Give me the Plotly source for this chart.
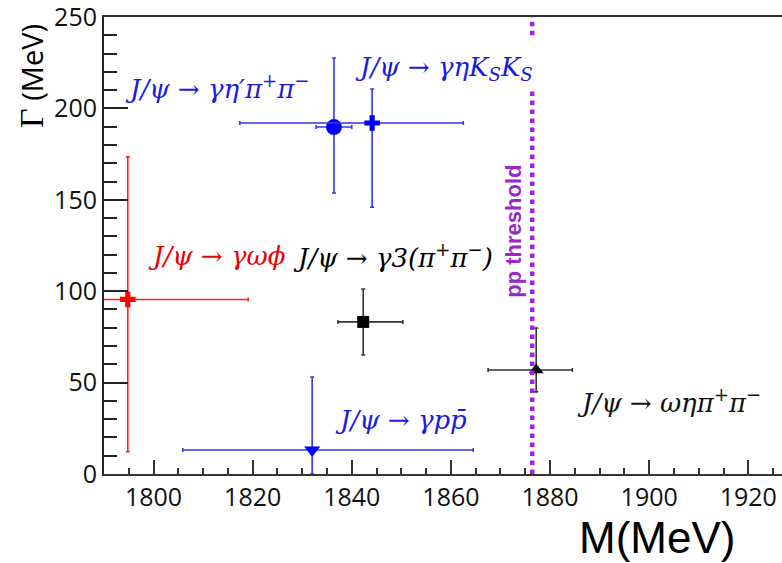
import plotly.graph_objects as go

# ---- data ----
channels = ["J/ψ→γωφ", "J/ψ→γη'π+π-", "J/ψ→γηKsKs", "J/ψ→γ3(π+π-)", "J/ψ→γpp̄", "J/ψ→ωηπ+π-"]
mass = [1794.8, 1836.4, 1844.1, 1842.3, 1832.0, 1877.2]
mass_err_minus = [24.3, 3.6, 26.7, 5.1, 26.1, 9.7]
mass_err_plus = [24.3, 3.6, 18.4, 8.0, 32.5, 7.3]
gamma = [95.5, 189.8, 192.0, 83.2, 13.1, 56.9]
gamma_err_minus = [83.3, 36.1, 46.0, 18.1, 13.1, 12.0]
gamma_err_plus = [78.0, 37.8, 18.6, 18.0, 40.0, 23.0]

threshold_mass = 1876.4
threshold_segments = [(0, 211), (240, 250)]

x_ticks = [1800, 1820, 1840, 1860, 1880, 1900, 1920]
y_ticks = [0, 50, 100, 150, 200, 250]

# ---- styles ----
styles = [
    dict(symbol="cross", size=13, color="#ff0000", line="#ff2020"),
    dict(symbol="circle", size=16, color="#0000ff", line="#3535e8"),
    dict(symbol="cross", size=13, color="#0000ff", line="#3535e8"),
    dict(symbol="square", size=12, color="#000000", line="#333333"),
    dict(symbol="triangle-down", size=14, color="#0000ff", line="#3535e8"),
    dict(symbol="triangle-up", size=13, color="#000000", line="#333333"),
]

fig = go.Figure()
# empty helper trace so the title-carrying axis exists (added first, drawn beneath)
fig.add_trace(go.Scatter(x=[None], y=[None], yaxis="y2", showlegend=False, hoverinfo="skip"))

for i, name in enumerate(channels):
    st = styles[i]
    fig.add_trace(go.Scatter(
        x=[mass[i]], y=[gamma[i]], mode="markers", name=name,
        marker=dict(symbol=st["symbol"], size=st["size"], color=st["color"], line=dict(width=0)),
        error_x=dict(type="data", symmetric=False, array=[mass_err_plus[i]],
                     arrayminus=[mass_err_minus[i]], color=st["line"], thickness=1.6, width=2),
        error_y=dict(type="data", symmetric=False, array=[gamma_err_plus[i]],
                     arrayminus=[gamma_err_minus[i]], color=st["line"], thickness=1.6, width=2),
        showlegend=False, cliponaxis=True,
    ))

for y0, y1 in threshold_segments:
    fig.add_shape(type="line", xref="x", yref="y", x0=threshold_mass, x1=threshold_mass,
                  y0=y0, y1=y1, layer="above",
                  line=dict(color="#a020f0", width=4.5, dash="dot"))

serif = "DejaVu Serif"
labels = [
    dict(text="J/ψ → γη′π<sup>+</sup>π<sup>−</sup>", x=1812.8, y=211.7, color="#1a1ae6"),
    dict(text="J/ψ → γηK<sub>S</sub>K<sub>S</sub>", x=1858.6, y=222.0, color="#1a1ae6"),
    dict(text="J/ψ → γωϕ", x=1812.8, y=119.3, color="#ee0000"),
    dict(text="J/ψ → γ3(π<sup>+</sup>π<sup>−</sup>)", x=1848.3, y=119.3, color="#000000"),
    dict(text="J/ψ → γpp̄", x=1849.9, y=29.5, color="#1a1ae6"),
    dict(text="J/ψ → ωηπ<sup>+</sup>π<sup>−</sup>", x=1904.0, y=40.0, color="#111111"),
]
for lb in labels:
    fig.add_annotation(text=lb["text"], x=lb["x"], y=lb["y"], xref="x", yref="y",
                       showarrow=False, xanchor="center", yanchor="middle",
                       font=dict(family=serif, size=26, color=lb["color"], style="italic"))

fig.add_annotation(text="<b>pp threshold</b>", x=1872.7, y=133, xref="x", yref="y",
                   showarrow=False, textangle=-90, xanchor="center", yanchor="middle",
                   font=dict(family="Liberation Sans", size=22, color="#9a28c8"))

# x axis title
fig.add_annotation(text="M(MeV)", xref="paper", yref="paper", x=0.816, y=-0.138,
                   showarrow=False, xanchor="center", yanchor="middle",
                   font=dict(family="Liberation Sans", size=44, color="#000000"))

tickfont = dict(family="Open Sans", size=25, color="#111111")
fig.update_layout(
    xaxis=dict(range=[1790, 1926.8], tickvals=x_ticks, ticks="inside", ticklen=14,
               tickwidth=1.8, tickcolor="#333333", showgrid=False, zeroline=False,
               showline=True, linecolor="#333333", linewidth=2, mirror=True,
               minor=dict(dtick=5, ticks="inside", ticklen=6, tickwidth=1.5, tickcolor="#333333"),
               tickfont=tickfont),
    yaxis=dict(range=[0, 250], tickvals=y_ticks, ticks="inside", ticklen=24,
               tickwidth=1.8, tickcolor="#222222", showgrid=False, zeroline=False,
               showline=True, linecolor="#222222", linewidth=2, mirror=False,
               ticklabeloverflow="allow",
               minor=dict(dtick=10, ticks="inside", ticklen=13, tickwidth=1.5, tickcolor="#222222"),
               tickfont=tickfont),
    yaxis2=dict(domain=[0.742, 1.0], anchor="x", side="left", range=[0, 1],
                showticklabels=False, ticks="", showline=False, showgrid=False, zeroline=False,
                automargin=True,
                title=dict(text='<span style="font-family:Liberation Serif;font-size:34px">Γ</span> (MeV)',
                           standoff=50,
                           font=dict(family="Open Sans", size=29, color="#000000"))),
    width=782, height=563, margin=dict(l=104, r=0, t=17, b=89),
    plot_bgcolor="rgba(0,0,0,0)", paper_bgcolor="white", showlegend=False,
)

fig.write_html("out.html")
